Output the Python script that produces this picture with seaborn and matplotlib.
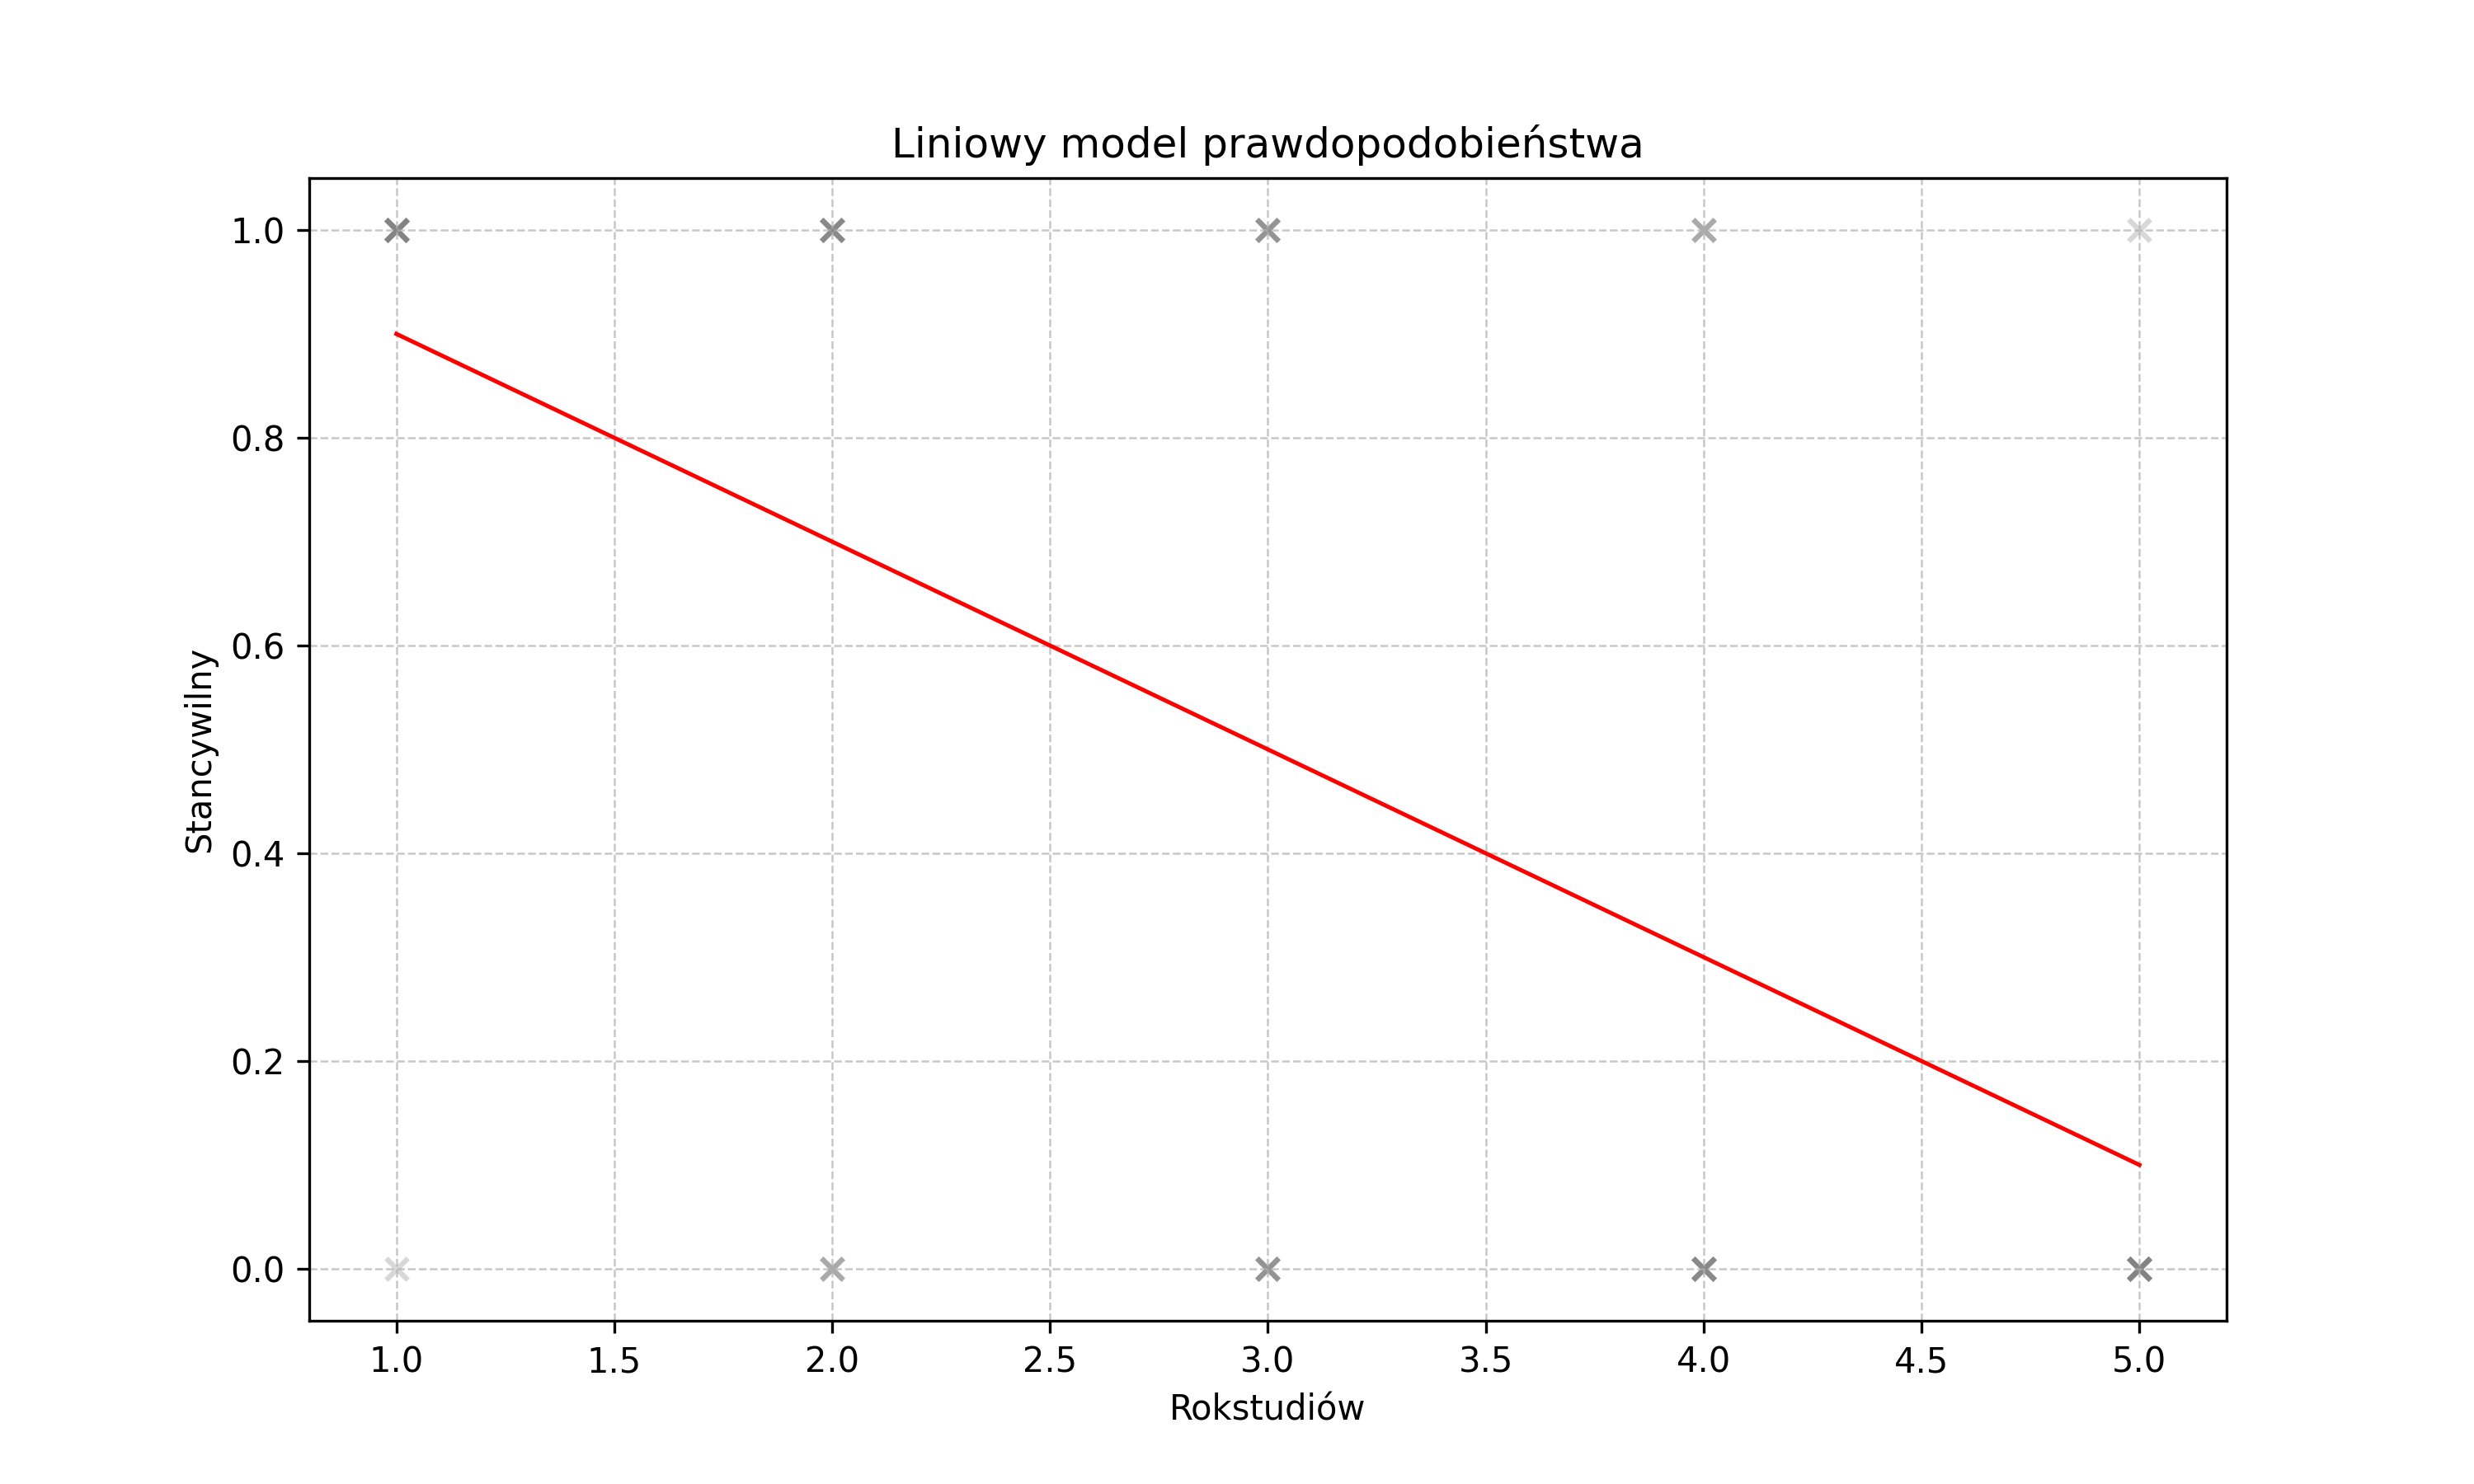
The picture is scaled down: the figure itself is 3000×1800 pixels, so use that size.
import matplotlib
matplotlib.use("Agg")
import matplotlib.pyplot as plt
import seaborn as sns
import pandas as pd

years = [1, 2, 3, 4, 5]
ones_count = [9, 7, 5, 3, 1]
zeros_count = [1, 3, 5, 7, 9]

rows = []
for x, o, z in zip(years, ones_count, zeros_count):
    rows += [(x, 1)] * o + [(x, 0)] * z
df = pd.DataFrame(rows, columns=["Rokstudiów", "Stancywilny"])

fig, ax = plt.subplots(figsize=(10, 6), dpi=300)
sns.scatterplot(data=df, x="Rokstudiów", y="Stancywilny", marker="x", color="gray",
                alpha=0.3, s=40, linewidth=1.5, ax=ax)
sns.regplot(data=df, x="Rokstudiów", y="Stancywilny", scatter=False, ci=None,
            line_kws={"color": "red", "linewidth": 1.2}, ax=ax)
ax.set_title("Liniowy model prawdopodobieństwa")
ax.set_xlabel("Rokstudiów")
ax.set_ylabel("Stancywilny")
ax.grid(True, linestyle="--", linewidth=0.6, alpha=0.7)
fig.savefig("out.png", dpi=300)
